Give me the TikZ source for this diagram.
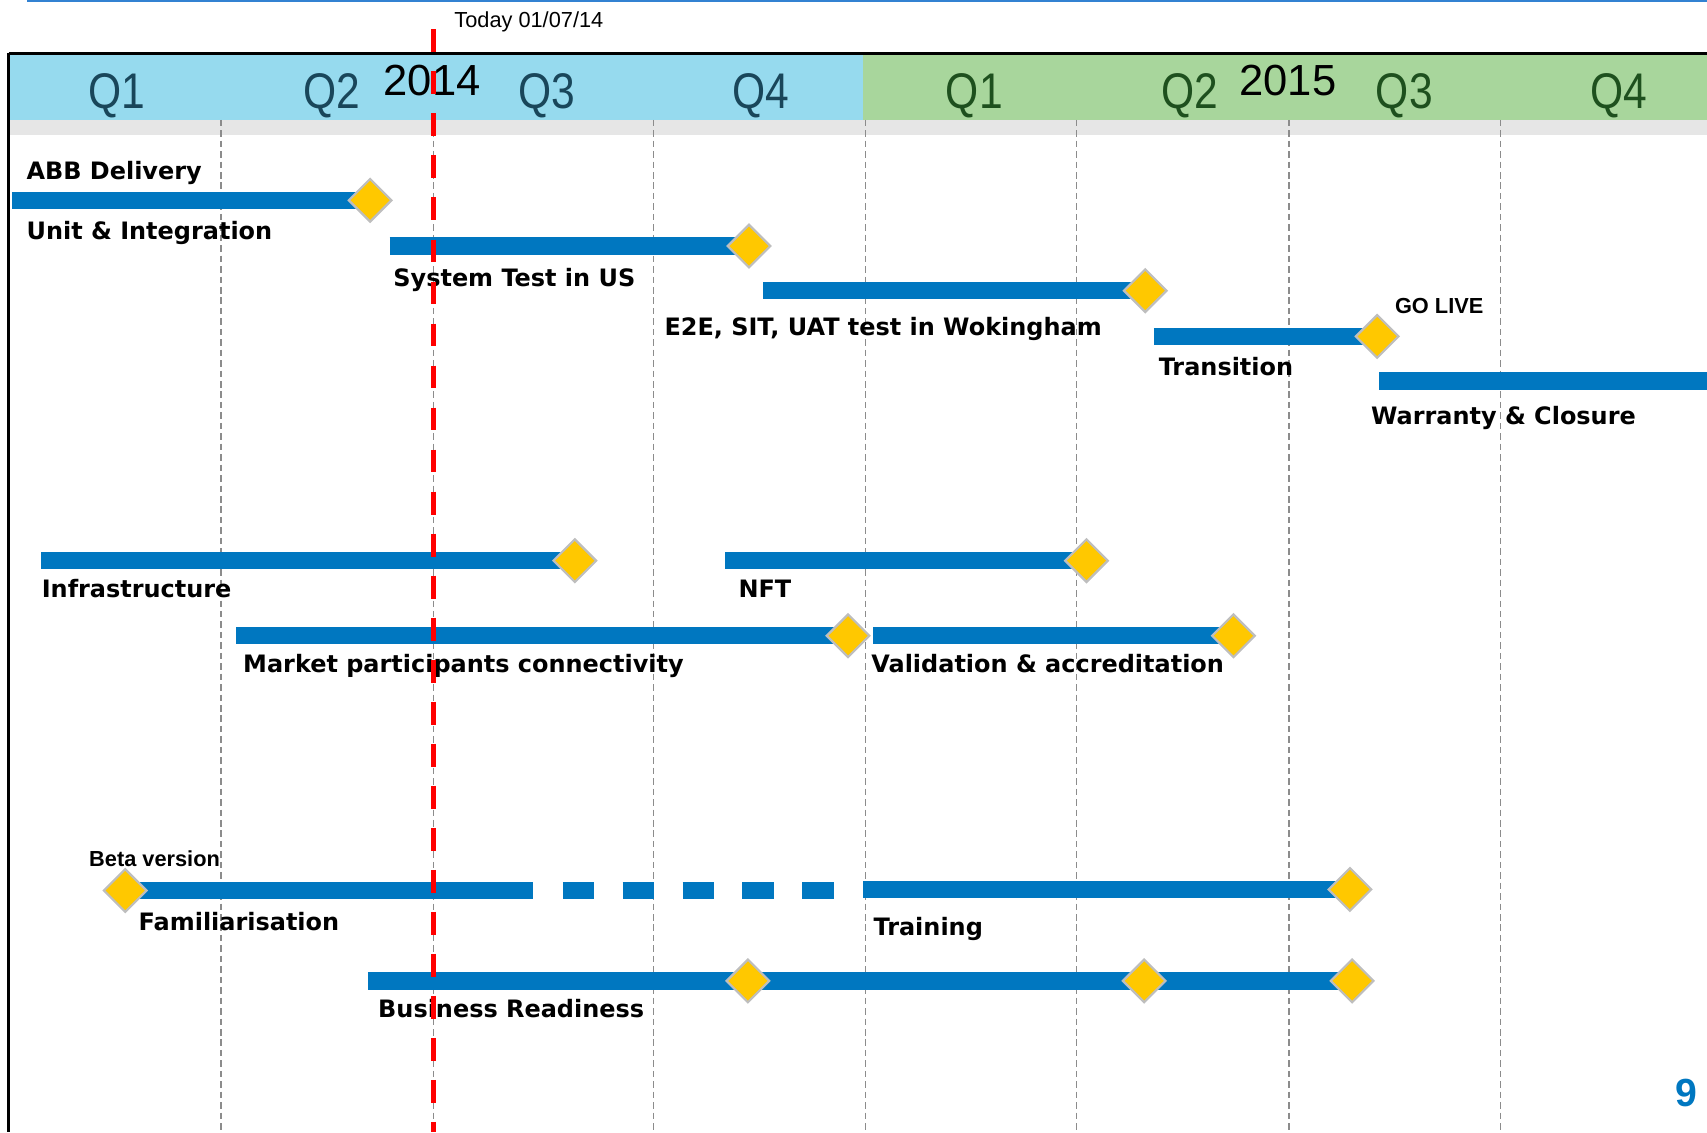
\documentclass[tikz,border=0pt]{standalone}
\usepackage{fontspec}
\setmainfont{Liberation Sans}
\newfontfamily\verdana{DejaVu Sans}
\usetikzlibrary{shapes.geometric}

\definecolor{barblue}{RGB}{0,119,192}
\definecolor{msyellow}{RGB}{255,200,0}
\definecolor{msedge}{RGB}{190,190,190}
\definecolor{hdrblue}{RGB}{150,218,238}
\definecolor{hdrgreen}{RGB}{168,214,156}
\definecolor{qblue}{RGB}{25,70,90}
\definecolor{qgreen}{RGB}{30,80,30}
\definecolor{topline}{RGB}{50,130,210}
\definecolor{stripgray}{RGB}{230,230,230}

\begin{document}
\begin{tikzpicture}[x=0.5pt, y=-0.5pt,
    bar/.style={draw=barblue, line width=8pt},
    milestone/.style={diamond, draw=msedge, fill=msyellow, line width=1pt, inner sep=0pt, minimum width=20pt, minimum height=20pt},
    task/.style={anchor=base west, inner sep=0pt, font=\verdana\bfseries\fontsize{11}{13}\selectfont},
    note/.style={anchor=base, inner sep=0pt, font=\bfseries\fontsize{10}{12}\selectfont},
    quarter/.style={anchor=base, inner sep=0pt, xscale=0.85, font=\fontsize{23}{26}\selectfont},
    year/.style={anchor=base, inner sep=0pt, font=\fontsize{20}{24}\selectfont},
    qline/.style={draw=gray!90, line width=0.6pt, dash pattern=on 3pt off 1.8pt}
]
\useasboundingbox (0,0) rectangle (1568,1040);

% Header band
\fill[hdrblue] (8,50) rectangle (793,110);
\fill[hdrgreen] (793,50) rectangle (1568,110);
\fill[stripgray] (8,110) rectangle (1568,124);
\draw[line width=1.2pt] (8,49) -- (1568,49);
\draw[line width=1.2pt] (8,49) -- (8,1040);
\draw[topline, line width=1pt] (25,1) -- (1568,1);

% Quarters and years
\foreach \x/\q/\c [count=\i] in {107/Q1/qblue, 305/Q2/qblue, 502/Q3/qblue, 699/Q4/qblue,
    895/Q1/qgreen, 1093/Q2/qgreen, 1290/Q3/qgreen, 1487/Q4/qgreen}
  \node[quarter, text=\c] (quart\i) at (\x,100) {\q};
\node[year] (yr14) at (397,88) {2014};
\node[year] (yr15) at (1183,88) {2015};

% Quarter boundaries
\foreach \x in {203,398,600,795,989,1184,1378}
  \draw[qline] (\x,110) -- (\x,1040);

% Delivery stream
\coordinate (abbS) at (11,184);   \coordinate (abbE) at (340,184);
\coordinate (unitS) at (358,226); \coordinate (unitE) at (688,226);
\coordinate (e2eS) at (701,267);  \coordinate (e2eE) at (1052,267);
\coordinate (tranS) at (1060,309); \coordinate (tranE) at (1265,309);
\coordinate (warS) at (1267,350); \coordinate (warE) at (1568,350);
\draw[bar] (abbS) -- (abbE);
\draw[bar] (unitS) -- (unitE);
\draw[bar] (e2eS) -- (e2eE);
\draw[bar] (tranS) -- (tranE);
\draw[bar] (warS) -- (warE);
\node[milestone] (abbM) at (abbE) {};
\node[milestone] (unitM) at (unitE) {};
\node[milestone] (e2eM) at (e2eE) {};
\node[milestone] (tranM) at (tranE) {};
\node[task] (abbL) at (24,165) {ABB Delivery};
\node[task] (unitL) at (24,220) {Unit \& Integration};
\node[task] (sysL) at (361,263) {System Test in US};
\node[task] (e2eL) at (610,308) {E2E, SIT, UAT test in Wokingham};
\node[note] (golive) at (1322,288) {GO LIVE};
\node[task] (tranL) at (1064,345) {Transition};
\node[task] (warL) at (1259,390) {Warranty \& Closure};

% Technical stream
\coordinate (infS) at (38,515);  \coordinate (infE) at (528,515);
\coordinate (nftS) at (666,515); \coordinate (nftE) at (998,515);
\coordinate (mktS) at (217,584); \coordinate (mktE) at (779,584);
\coordinate (valS) at (802,584); \coordinate (valE) at (1133,584);
\draw[bar] (infS) -- (infE);
\draw[bar] (nftS) -- (nftE);
\draw[bar] (mktS) -- (mktE);
\draw[bar] (valS) -- (valE);
\node[milestone] (infM) at (infE) {};
\node[milestone] (nftM) at (nftE) {};
\node[milestone] (mktM) at (mktE) {};
\node[milestone] (valM) at (valE) {};
\node[task] (infL) at (38,549) {Infrastructure};
\node[task] (nftL) at (678,549) {NFT};
\node[task] (mktL) at (223,618) {Market participants connectivity};
\node[task] (valL) at (800,618) {Validation \& accreditation};

% Business stream
\coordinate (famS) at (115,818); \coordinate (famE) at (490,818);
\coordinate (gapS) at (517,818); \coordinate (gapE) at (766,818);
\coordinate (trnS) at (793,817); \coordinate (trnE) at (1240,817);
\coordinate (bizS) at (338,901); \coordinate (bizE) at (1242,901);
\draw[bar] (famS) -- (famE);
\draw[bar, dash pattern=on 14.5pt off 13pt] (gapS) -- (gapE);
\draw[bar] (trnS) -- (trnE);
\draw[bar] (bizS) -- (bizE);
\node[milestone] (betaM) at (famS) {};
\node[milestone] (trnM) at (trnE) {};
\node[milestone] (bizM1) at (687,901) {};
\node[milestone] (bizM2) at (1051,901) {};
\node[milestone] (bizM3) at (bizE) {};
\node[note] (beta) at (142,796) {Beta version};
\node[task] (famL) at (127,855) {Familiarisation};
\node[task] (trnL) at (802,859) {Training};
\node[task] (bizL) at (347,935) {Business Readiness};

% Today marker
\node[anchor=base west, inner sep=0pt, font=\fontsize{10}{12}\selectfont] (today) at (417,25) {Today 01/07/14};
\coordinate (todayTop) at (398,27);
\coordinate (todayBot) at (398,1040);
\draw[red, line width=2.5pt, dash pattern=on 10.5pt off 8.8pt] (todayTop) -- (todayBot);

\node[anchor=base, inner sep=0pt, text=barblue, font=\bfseries\fontsize{18}{20}\selectfont] (pagenum) at (1549,1016) {9};

\end{tikzpicture}
\end{document}
